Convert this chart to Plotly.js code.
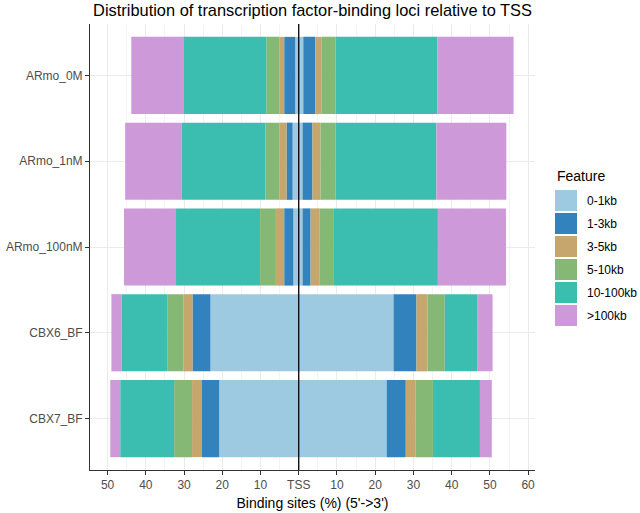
<!DOCTYPE html>
<html>
<head>
<meta charset="utf-8">
<script src="https://cdn.plot.ly/plotly-3.0.1.min.js"></script>
<style>html,body{margin:0;padding:0;background:#fff;}#chart{width:640px;height:513px;}</style>
</head>
<body>
<div id="chart"></div>
<script>
const categories = ["ARmo_0M", "ARmo_1nM", "ARmo_100nM", "CBX6_BF", "CBX7_BF"];
const features = ["0-1kb", "1-3kb", "3-5kb", "5-10kb", "10-100kb", ">100kb"];
const colors = ["#9ECAE1", "#3182BD", "#C6A66D", "#86B875", "#3BBEB0", "#CD99D8"];

// upstream (5') percentages, per feature, per category
const up_0_1kb     = [0.9, 1.6, 1.4, 23.1, 20.8];
const up_1_3kb     = [2.9, 1.6, 2.4, 4.7, 4.5];
const up_3_5kb     = [1.3, 1.8, 2.4, 2.4, 2.6];
const up_5_10kb    = [3.4, 3.7, 3.9, 4.2, 4.7];
const up_10_100kb  = [21.7, 22.0, 22.0, 12.0, 14.1];
const up_100kb     = [13.6, 14.7, 13.6, 2.6, 2.6];
// downstream (3') percentages
const down_0_1kb    = [1.2, 1.0, 1.0, 24.8, 23.0];
const down_1_3kb    = [3.1, 2.6, 2.1, 6.0, 5.0];
const down_3_5kb    = [1.6, 2.1, 2.4, 2.9, 2.6];
const down_5_10kb   = [3.7, 3.9, 3.7, 4.5, 4.5];
const down_10_100kb = [26.7, 26.4, 27.2, 8.6, 12.3];
const down_100kb    = [19.9, 18.3, 17.8, 3.9, 3.1];

const upstream = [up_0_1kb, up_1_3kb, up_3_5kb, up_5_10kb, up_10_100kb, up_100kb];
const downstream = [down_0_1kb, down_1_3kb, down_3_5kb, down_5_10kb, down_10_100kb, down_100kb];

const tickVals = [-50, -40, -30, -20, -10, 0, 10, 20, 30, 40, 50, 60];
const tickText = ["50", "40", "30", "20", "10", "TSS", "10", "20", "30", "40", "50", "60"];

const traces = features.map((f, i) => ({
  type: "bar",
  orientation: "h",
  name: f,
  x: upstream[i].map(v => -v).concat(downstream[i]),
  y: categories.concat(categories),
  marker: {color: colors[i], line: {width: 0}},
  showlegend: false,
  hoverinfo: "x+y+name"
}));

// layout geometry
const L = 90, R = 105, T = 24, B = 43, W = 640, H = 513;
const pw = W - L - R, ph = H - T - B;
const px2x = p => (p - L) / pw;
const py2y = p => (H - B - p) / ph;

const shapes = [{
  type: "line", xref: "x", yref: "paper", x0: 0, x1: 0, y0: 0, y1: 1,
  line: {color: "#000", width: 1.3}, layer: "above"
}];
const annotations = [{
  text: "Feature", xref: "paper", yref: "paper", x: px2x(555), y: py2y(176),
  xanchor: "left", yanchor: "middle", showarrow: false,
  font: {family: "Liberation Sans, Arial, sans-serif", size: 14, color: "#000"}
}];
features.forEach((f, i) => {
  const top = 190 + i * 23;
  shapes.push({
    type: "rect", xref: "paper", yref: "paper",
    x0: px2x(555), x1: px2x(577), y0: py2y(top + 21), y1: py2y(top),
    fillcolor: colors[i], line: {width: 0}
  });
  annotations.push({
    text: f, xref: "paper", yref: "paper", x: px2x(585), y: py2y(top + 10.5),
    xanchor: "left", yanchor: "middle", showarrow: false,
    font: {family: "Liberation Sans, Arial, sans-serif", size: 12, color: "#000"}
  });
});

const layout = {
  width: W, height: H,
  margin: {l: L, r: R, t: T, b: B, pad: 0},
  paper_bgcolor: "#fff", plot_bgcolor: "#fff",
  barmode: "relative", bargap: 0.1,
  font: {family: "Liberation Sans, Arial, sans-serif"},
  title: {
    text: "Distribution of transcription factor-binding loci relative to TSS",
    x: 0.5, xref: "paper", xanchor: "center", y: 1 - 10 / H, yanchor: "middle", yref: "container",
    font: {size: 16.4, color: "#000"}
  },
  xaxis: {
    range: [-54.6, 61.8],
    tickvals: tickVals, ticktext: tickText,
    ticks: "outside", ticklen: 4, tickcolor: "#333", tickwidth: 1,
    tickfont: {size: 12, color: "#4D4D4D"},
    showgrid: true, gridcolor: "#EBEBEB", gridwidth: 1,
    minor: {dtick: 5, tick0: 0, showgrid: true, gridcolor: "#EBEBEB", gridwidth: 0.6},
    zeroline: false,
    showline: true, linecolor: "#333", linewidth: 1,
    title: {text: "Binding sites (%) (5'->3')", font: {size: 14, color: "#000"}, standoff: 6},
    fixedrange: true
  },
  yaxis: {
    type: "category",
    categoryorder: "array", categoryarray: categories,
    range: [4.6, -0.6],
    ticks: "outside", ticklen: 4, tickcolor: "#333", tickwidth: 1,
    tickfont: {size: 12, color: "#4D4D4D"},
    showgrid: true, gridcolor: "#EBEBEB", gridwidth: 1,
    zeroline: false,
    showline: true, linecolor: "#333", linewidth: 1,
    fixedrange: true
  },
  shapes: shapes,
  annotations: annotations
};

Plotly.newPlot("chart", traces, layout, {displayModeBar: false, staticPlot: true});
</script>
</body>
</html>
